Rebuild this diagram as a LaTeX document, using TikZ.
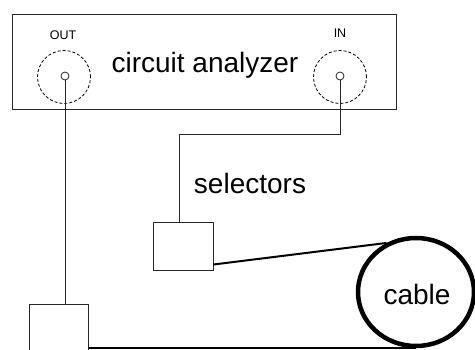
\documentclass[tikz,border=0pt]{standalone}
\usepackage{fontspec}
\setmainfont{Liberation Sans}
\usetikzlibrary{positioning,shapes.geometric}

\begin{document}
\begin{tikzpicture}[
  x=1pt, y=-1pt,
  wire/.style={draw=black!85, line width=1pt},
  cablewire/.style={draw=black, line width=2pt},
  box/.style={draw=black!85, line width=1pt, inner sep=0pt, minimum width=#1},
  box/.default=60pt,
  port/.style={draw=black, line width=0.8pt, dashed, dash pattern=on 3pt off 2pt, circle, inner sep=0pt, minimum size=53pt},
  pin/.style={draw=black!85, line width=0.8pt, circle, inner sep=0pt, minimum size=8pt},
  lab/.style={font=\fontsize{28}{32}\selectfont, inner sep=0pt},
  tag/.style={font=\fontsize{12.5}{14}\selectfont, inner sep=0pt}]
\clip (0,0) rectangle (475,349);
\fill[white] (0,0) rectangle (475,349);
% --- analyzer with its two ports
\node[box=384pt, minimum height=95pt] (an) at (204,61.5) {};
\node[lab] (title) at (205,65.5) {circuit analyzer};
\node[port] (outp) at (64,77) {};
\node[pin] (outpin) at (65,76) {};
\node[tag] (outtag) at (63,35) {OUT};
\node[port] (inp) at (340,77) {};
\node[pin] (inpin) at (340,76) {};
\node[tag] (intag) at (340,33) {IN};
% --- selectors and cable
\node[box, minimum height=48pt] (selin) at (183,246) {};
\node[box=59pt, minimum height=52pt] (selout) at (58.5,330) {};
\node[lab] (seltag) at (250,183) {selectors};
\node[ellipse, draw=black, line width=4.5pt, minimum width=116pt, minimum height=108pt, inner sep=0pt] (cable) at (416,292) {};
\node[lab] (cabletag) at (417,294) {cable};
\coordinate (bend) at (179,134);
\draw[wire] (outpin.south) -- (outpin.south |- selout.north);
\draw[wire] (inpin.south) |- (bend) -- (bend |- selin.north);
\draw[cablewire] ([yshift=6pt]selin.south east) -- (cable.121);
\draw[cablewire] (selout.east |- cable.south) -- (cable.south);
\end{tikzpicture}
\end{document}
